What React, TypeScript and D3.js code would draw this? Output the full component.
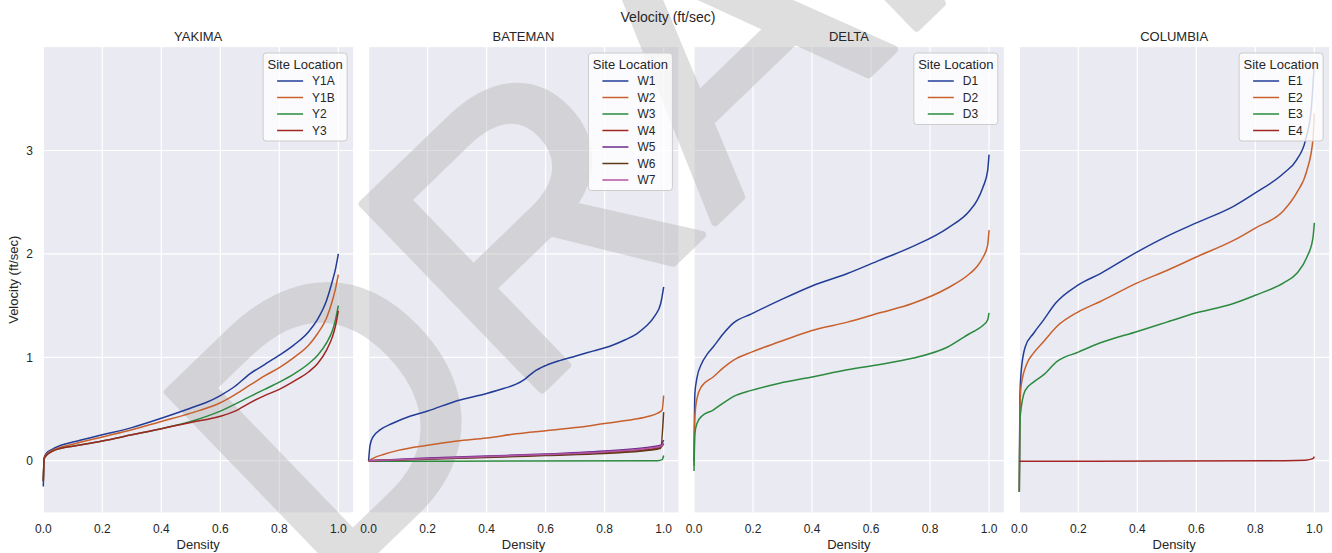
import React from 'react';
import * as d3 from 'd3';

type Pt = [number, number];

// ---------- data (density, velocity ft/sec) ----------
const panelTitles = ['YAKIMA', 'BATEMAN', 'DELTA', 'COLUMBIA'];
const yakimaSites = ['Y1A', 'Y1B', 'Y2', 'Y3'];
const batemanSites = ['W1', 'W2', 'W3', 'W4', 'W5', 'W6', 'W7'];
const deltaSites = ['D1', 'D2', 'D3'];
const columbiaSites = ['E1', 'E2', 'E3', 'E4'];

const xTicks = [0, 0.2, 0.4, 0.6, 0.8, 1.0];
const yTicks = [0, 1, 2, 3];

const Y1A: Pt[] = [[0, -0.25], [0.003, 0.03], [0.01, 0.07], [0.03, 0.11], [0.06, 0.15], [0.1, 0.18], [0.2, 0.25], [0.3, 0.32], [0.4, 0.41], [0.5, 0.51], [0.55, 0.56], [0.6, 0.63], [0.65, 0.72], [0.7, 0.84], [0.75, 0.93], [0.8, 1.02], [0.85, 1.12], [0.9, 1.25], [0.93, 1.37], [0.96, 1.55], [0.98, 1.74], [0.99, 1.85], [1.0, 2.0]];
const Y1B: Pt[] = [[0, -0.2], [0.003, 0.02], [0.01, 0.06], [0.03, 0.1], [0.06, 0.13], [0.1, 0.16], [0.2, 0.23], [0.3, 0.3], [0.4, 0.38], [0.5, 0.46], [0.6, 0.56], [0.65, 0.64], [0.7, 0.73], [0.75, 0.82], [0.8, 0.9], [0.85, 1.0], [0.9, 1.12], [0.93, 1.23], [0.96, 1.38], [0.98, 1.55], [0.99, 1.66], [1.0, 1.8]];
const Y2: Pt[] = [[0, -0.2], [0.003, 0.02], [0.01, 0.05], [0.03, 0.09], [0.06, 0.12], [0.1, 0.14], [0.2, 0.19], [0.3, 0.25], [0.4, 0.31], [0.5, 0.38], [0.6, 0.48], [0.7, 0.62], [0.75, 0.69], [0.8, 0.76], [0.85, 0.84], [0.9, 0.94], [0.93, 1.02], [0.96, 1.14], [0.98, 1.26], [0.99, 1.36], [1.0, 1.5]];
const Y3: Pt[] = [[0, -0.2], [0.003, 0.02], [0.01, 0.05], [0.03, 0.09], [0.06, 0.12], [0.1, 0.14], [0.2, 0.19], [0.3, 0.25], [0.4, 0.31], [0.5, 0.37], [0.6, 0.43], [0.65, 0.48], [0.7, 0.56], [0.75, 0.63], [0.8, 0.69], [0.85, 0.77], [0.9, 0.86], [0.93, 0.94], [0.96, 1.07], [0.98, 1.2], [0.99, 1.3], [1.0, 1.45]];

const W1: Pt[] = [[0, 0], [0.005, 0.15], [0.015, 0.23], [0.04, 0.3], [0.08, 0.36], [0.14, 0.43], [0.2, 0.48], [0.3, 0.58], [0.4, 0.65], [0.46, 0.7], [0.5, 0.74], [0.53, 0.79], [0.56, 0.86], [0.6, 0.92], [0.65, 0.97], [0.7, 1.01], [0.76, 1.06], [0.82, 1.11], [0.87, 1.17], [0.91, 1.23], [0.94, 1.3], [0.97, 1.4], [0.99, 1.52], [1.0, 1.68]];
const W2: Pt[] = [[0, 0], [0.02, 0.03], [0.05, 0.06], [0.1, 0.1], [0.2, 0.15], [0.3, 0.19], [0.4, 0.22], [0.5, 0.26], [0.6, 0.29], [0.7, 0.32], [0.8, 0.36], [0.9, 0.4], [0.95, 0.43], [0.98, 0.46], [0.995, 0.49], [1.0, 0.63]];
const W3: Pt[] = [[0, -0.005], [0.5, -0.003], [0.98, 0.0], [0.995, 0.01], [1.0, 0.05]];
const W4: Pt[] = [[0, 0], [0.2, 0.02], [0.4, 0.035], [0.6, 0.055], [0.8, 0.08], [0.95, 0.11], [0.99, 0.13], [1.0, 0.16]];
const W5: Pt[] = [[0, 0], [0.2, 0.025], [0.4, 0.045], [0.6, 0.065], [0.8, 0.095], [0.95, 0.13], [0.99, 0.15], [1.0, 0.2]];
const W6: Pt[] = [[0, 0], [0.2, 0.015], [0.4, 0.03], [0.6, 0.05], [0.8, 0.07], [0.95, 0.1], [0.99, 0.12], [1.0, 0.47]];
const W7: Pt[] = [[0, 0], [0.2, 0.02], [0.4, 0.04], [0.6, 0.06], [0.8, 0.085], [0.95, 0.12], [0.99, 0.14], [1.0, 0.17]];

const D1: Pt[] = [[0, 0.0], [0.003, 0.65], [0.01, 0.8], [0.026, 0.94], [0.045, 1.03], [0.065, 1.1], [0.1, 1.23], [0.133, 1.33], [0.195, 1.42], [0.29, 1.55], [0.4, 1.69], [0.52, 1.81], [0.63, 1.94], [0.74, 2.07], [0.86, 2.25], [0.935, 2.42], [0.96, 2.52], [0.98, 2.65], [0.995, 2.8], [1.0, 2.96]];
const D2: Pt[] = [[0, -0.05], [0.003, 0.43], [0.01, 0.6], [0.026, 0.72], [0.065, 0.81], [0.1, 0.9], [0.133, 0.97], [0.195, 1.05], [0.29, 1.15], [0.4, 1.26], [0.52, 1.34], [0.63, 1.43], [0.74, 1.52], [0.86, 1.67], [0.935, 1.81], [0.96, 1.88], [0.98, 1.97], [0.995, 2.08], [1.0, 2.23]];
const D3: Pt[] = [[0, -0.1], [0.003, 0.26], [0.01, 0.36], [0.026, 0.43], [0.065, 0.49], [0.1, 0.56], [0.133, 0.62], [0.195, 0.68], [0.29, 0.75], [0.4, 0.81], [0.52, 0.88], [0.63, 0.93], [0.74, 0.99], [0.86, 1.1], [0.935, 1.23], [0.96, 1.27], [0.98, 1.31], [0.995, 1.36], [1.0, 1.43]];

const E1: Pt[] = [[0, -0.3], [0.002, 0.6], [0.006, 0.85], [0.02, 1.1], [0.048, 1.23], [0.082, 1.36], [0.122, 1.52], [0.2, 1.7], [0.275, 1.81], [0.4, 2.02], [0.5, 2.17], [0.6, 2.3], [0.726, 2.46], [0.8, 2.59], [0.896, 2.78], [0.94, 2.91], [0.97, 3.1], [0.99, 3.42], [1.0, 3.85]];
const E2: Pt[] = [[0, -0.3], [0.002, 0.5], [0.006, 0.72], [0.026, 0.94], [0.048, 1.04], [0.082, 1.15], [0.128, 1.3], [0.2, 1.44], [0.275, 1.54], [0.4, 1.72], [0.5, 1.84], [0.6, 1.97], [0.726, 2.13], [0.8, 2.25], [0.896, 2.42], [0.94, 2.59], [0.975, 2.81], [0.995, 3.1], [1.0, 3.36]];
const E3: Pt[] = [[0, -0.3], [0.003, 0.43], [0.02, 0.68], [0.048, 0.76], [0.082, 0.83], [0.128, 0.96], [0.2, 1.05], [0.275, 1.14], [0.4, 1.25], [0.5, 1.34], [0.6, 1.43], [0.726, 1.52], [0.8, 1.6], [0.896, 1.72], [0.94, 1.81], [0.975, 1.97], [0.995, 2.15], [1.0, 2.3]];
const E4: Pt[] = [[0, -0.005], [0.5, -0.003], [0.9, 0.0], [0.97, 0.005], [0.995, 0.02], [1.0, 0.04]];

const palette = ['#233d97', '#c8602c', '#2b8a3e', '#a02422', '#6a2c8c', '#5e3a18', '#b454a4'];

const panelSites = [yakimaSites, batemanSites, deltaSites, columbiaSites];
const panelSeries = [[Y1A, Y1B, Y2, Y3], [W1, W2, W3, W4, W5, W6, W7], [D1, D2, D3], [E1, E2, E3, E4]];

// ---------- layout ----------
const W = 1332, H = 553;
const plotTop = 47.1, plotBottom = 512.4;
const panelW = 309.8;
const panelLefts = [43.3, 368.6, 694, 1019.3];
const FONT = '"Liberation Sans", Arial, sans-serif';
const TXT = '#262626';

const y = d3.scaleLinear().domain([-0.5, 4.0]).range([plotBottom, plotTop]);

export default function App() {
  const xs = panelLefts.map(left => d3.scaleLinear().domain([0, 1.05]).range([left, left + panelW]));
  return (
    <svg width={W} height={H} style={{ position: 'absolute', left: 0, top: 0, background: '#fff' }}
      fontFamily={FONT}>
      <rect x={0} y={0} width={W} height={H} fill="#fff" />
      {panelTitles.map((title, pi) => {
        const left = panelLefts[pi];
        const x = xs[pi];
        return (
          <g key={'bg' + title}>
            <rect x={left} y={plotTop} width={panelW} height={plotBottom - plotTop} fill="#eaeaf2" />
            {xTicks.map(t => (
              <line key={'gx' + t} x1={x(t)} x2={x(t)} y1={plotTop} y2={plotBottom} stroke="#fff" strokeWidth={1.2} />
            ))}
            {yTicks.map(t => (
              <line key={'gy' + t} x1={left} x2={left + panelW} y1={y(t)} y2={y(t)} stroke="#fff" strokeWidth={1.2} />
            ))}
          </g>
        );
      })}
      {/* watermark */}
      <text transform="translate(325,599) rotate(-44)" fontSize={375} fontFamily={FONT}
        fill="#b8b8b8" stroke="#b8b8b8" strokeWidth={8} strokeLinejoin="round" opacity={0.45}>DRAFT</text>

      <text x={668} y={22} textAnchor="middle" fontSize={14} fill={TXT}>Velocity (ft/sec)</text>
      <text transform={`translate(18,${(plotTop + plotBottom) / 2}) rotate(-90)`} textAnchor="middle"
        fontSize={13} fill={TXT}>Velocity (ft/sec)</text>
      {yTicks.map(t => (
        <text key={t} x={33} y={y(t) + 4.5} textAnchor="end" fontSize={12} fill={TXT}>{d3.format('d')(t)}</text>
      ))}
      {panelTitles.map((title, pi) => {
        const left = panelLefts[pi];
        const x = xs[pi];
        const line = d3.line<Pt>().x(d => x(d[0])).y(d => y(d[1])).curve(d3.curveMonotoneX);
        const sites = panelSites[pi];
        const series = panelSeries[pi];
        const lw = 84, lh = 22 + sites.length * 16.5;
        const lx = left + panelW - 6 - lw, ly = 53;
        return (
          <g key={'s' + title}>
            <text x={left + panelW / 2} y={40.5} textAnchor="middle" fontSize={13} fill={TXT}>{title}</text>
            {xTicks.map(t => (
              <text key={'tx' + t} x={x(t)} y={532.5} textAnchor="middle" fontSize={12} fill={TXT}>{d3.format('.1f')(t)}</text>
            ))}
            <text x={left + panelW / 2} y={549} textAnchor="middle" fontSize={13} fill={TXT}>Density</text>
            {series.map((s, si) => (
              <path key={sites[si]} d={line(s) || ''} fill="none" stroke={palette[si]} strokeWidth={1.5} />
            ))}
            <rect x={lx} y={ly} width={lw} height={lh} rx={3} fill="#fff" fillOpacity={0.8} stroke="#cccccc" strokeWidth={1} />
            <text x={lx + lw / 2} y={ly + 15.5} textAnchor="middle" fontSize={13} fill={TXT}>Site Location</text>
            {sites.map((name, si) => {
              const cy = ly + 28 + si * 16.5;
              return (
                <g key={name}>
                  <line x1={lx + 14} x2={lx + 40} y1={cy} y2={cy} stroke={palette[si]} strokeWidth={1.5} />
                  <text x={lx + 49} y={cy + 4.2} fontSize={12} fill={TXT}>{name}</text>
                </g>
              );
            })}
          </g>
        );
      })}
    </svg>
  );
}
